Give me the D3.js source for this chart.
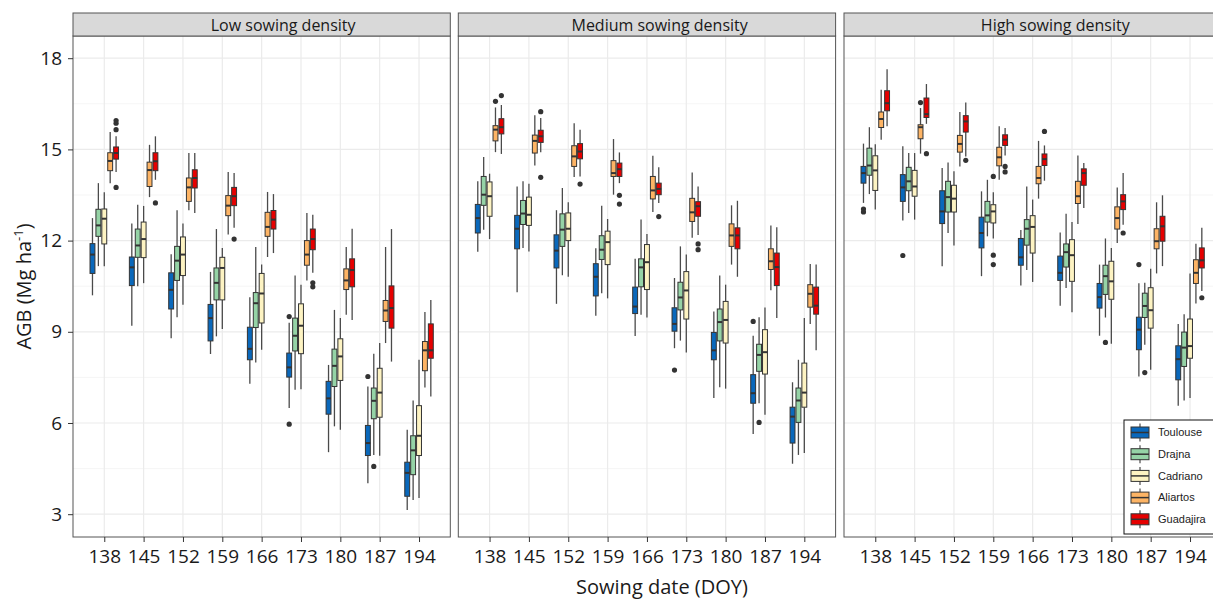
<!DOCTYPE html>
<html>
<head>
<meta charset="utf-8">
<script src="https://cdn.jsdelivr.net/npm/d3@7"></script>
<style>
  body { margin: 0; background: #fff; }
  svg { display: block; font-family: "Open Sans", sans-serif; }
</style>
</head>
<body>
<div id="chart"></div>
<script>
const densities = ["Low sowing density", "Medium sowing density", "High sowing density"];
const sowingDates = [138, 145, 152, 159, 166, 173, 180, 187, 194];
const sites = ["Toulouse", "Drajna", "Cadriano", "Aliartos", "Guadajira"];
const siteColors = ["#0a68bb", "#95d3a6", "#fdf3c2", "#fdb465", "#e60000"];
const yTicks = [3, 6, 9, 12, 15, 18];
const yMinor = [4.5, 7.5, 10.5, 13.5, 16.5];

// [whisker low, q1, median, q3, whisker high], one row per sowing date, one block per site
const lowBoxes = [
    [[10.2, 10.92, 11.54, 11.90, 12.74], [9.2, 10.52, 11.12, 11.46, 12.56], [8.79, 9.75, 10.38, 10.94, 11.55],
     [8.27, 8.70, 9.45, 9.90, 10.97], [7.29, 8.08, 8.44, 9.15, 10.14], [6.49, 7.51, 7.83, 8.30, 9.3],
     [5.04, 6.29, 6.81, 7.37, 7.91], [4.02, 4.93, 5.34, 5.92, 7.2], [3.14, 3.59, 4.36, 4.71, 5.78]],
    [[11.16, 12.14, 12.5, 13.03, 13.89], [10.5, 11.45, 11.84, 12.38, 13.18], [9.48, 10.69, 11.34, 11.81, 13.0],
     [8.85, 10.05, 10.61, 11.1, 12.38], [7.99, 9.14, 9.94, 10.29, 11.79], [7.09, 8.37, 8.87, 9.45, 10.85],
     [5.89, 7.20, 7.88, 8.43, 9.72], [4.95, 6.14, 6.73, 7.15, 8.28], [3.47, 4.30, 5.1, 5.58, 6.74]],
    [[11.16, 11.89, 12.72, 13.04, 13.59], [10.6, 11.44, 12.05, 12.61, 13.14], [9.89, 10.85, 11.54, 12.12, 12.56],
     [9.09, 10.05, 11.10, 11.45, 11.76], [8.41, 9.29, 10.26, 10.92, 11.21], [7.11, 8.28, 9.2, 9.92, 10.55],
     [5.78, 7.40, 8.19, 8.77, 9.45], [4.92, 6.19, 7.0, 7.80, 8.63], [3.53, 4.93, 5.58, 6.57, 8.08]],
    [[13.89, 14.30, 14.62, 14.89, 15.57], [13.43, 13.78, 14.32, 14.58, 15.15], [13.0, 13.29, 13.75, 14.06, 14.88],
     [12.2, 12.82, 13.15, 13.48, 14.26], [11.46, 12.14, 12.45, 12.93, 13.6], [10.69, 11.19, 11.54, 12.0, 12.91],
     [9.56, 10.39, 10.69, 11.07, 11.79], [8.63, 9.34, 9.70, 10.03, 11.79], [7.17, 7.72, 8.39, 8.68, 9.65]],
    [[14.26, 14.68, 14.88, 15.08, 15.43], [14.0, 14.30, 14.61, 14.89, 15.43], [12.91, 13.73, 14.06, 14.33, 14.88],
     [12.42, 13.15, 13.46, 13.75, 14.22], [11.59, 12.38, 12.69, 12.99, 13.53], [10.94, 11.70, 12.05, 12.38, 12.85],
     [9.39, 10.48, 11.03, 11.40, 12.39], [8.02, 9.12, 9.78, 10.51, 12.38], [6.87, 8.13, 8.39, 9.26, 10.05]]
];

const mediumBoxes = [
    [[11.63, 12.25, 12.74, 13.19, 13.95], [10.30, 11.73, 12.39, 12.83, 13.78], [9.92, 11.10, 11.67, 12.19, 13.0],
     [9.53, 10.18, 10.81, 11.24, 11.75], [8.86, 9.60, 9.83, 10.47, 11.4], [8.46, 9.02, 9.26, 9.79, 10.77],
     [6.82, 8.08, 8.39, 8.98, 9.67], [5.64, 6.65, 6.98, 7.59, 8.87], [4.66, 5.34, 6.21, 6.52, 7.34]],
    [[12.36, 13.16, 13.51, 14.11, 14.75], [11.76, 12.53, 12.89, 13.32, 13.95], [10.86, 11.81, 12.36, 12.88, 13.73],
     [10.27, 11.38, 11.70, 12.16, 13.15], [9.56, 10.48, 11.12, 11.40, 12.69], [8.71, 9.72, 10.13, 10.63, 11.81],
     [7.18, 8.70, 9.32, 9.75, 10.85], [6.65, 7.70, 8.24, 8.59, 9.48], [4.95, 6.02, 6.74, 7.15, 8.08]],
    [[12.05, 12.80, 13.46, 13.93, 14.20], [11.64, 12.50, 12.85, 13.43, 13.87], [10.81, 12.0, 12.39, 12.91, 13.26],
     [10.1, 11.21, 11.95, 12.31, 12.71], [9.47, 10.39, 11.29, 11.87, 12.22], [8.32, 9.42, 10.36, 10.98, 11.54],
     [7.13, 8.63, 9.39, 10.0, 10.55], [6.27, 7.61, 8.33, 9.07, 9.80], [5.01, 6.52, 7.0, 7.97, 9.45]],
    [[14.91, 15.28, 15.65, 15.78, 16.38], [14.47, 14.88, 15.28, 15.47, 16.12], [14.09, 14.44, 14.77, 15.12, 15.86],
     [13.51, 14.11, 14.22, 14.63, 15.34], [12.94, 13.37, 13.65, 14.11, 14.79], [12.09, 12.63, 12.93, 13.39, 14.24],
     [11.21, 11.81, 12.17, 12.55, 13.16], [10.37, 11.05, 11.32, 11.73, 12.50], [9.26, 9.81, 10.25, 10.55, 11.23]],
    [[14.85, 15.51, 15.73, 16.01, 16.46], [14.91, 15.23, 15.43, 15.63, 16.03], [14.11, 14.69, 14.93, 15.19, 15.65],
     [13.89, 14.11, 14.35, 14.55, 14.90], [13.24, 13.51, 13.70, 13.89, 14.41], [12.18, 12.80, 13.13, 13.28, 13.78],
     [10.81, 11.73, 12.17, 12.42, 13.31], [9.45, 10.52, 11.13, 11.59, 12.44], [8.39, 9.58, 9.86, 10.47, 11.21]]
];

const highBoxes = [
    [[13.24, 13.89, 14.22, 14.44, 15.19], [12.66, 13.29, 13.75, 14.17, 15.10], [11.16, 12.56, 12.96, 13.64, 14.39],
     [10.83, 11.76, 12.25, 12.77, 13.62], [10.52, 11.19, 11.45, 12.07, 12.35], [9.86, 10.69, 10.94, 11.49, 12.27],
     [8.87, 9.78, 10.14, 10.59, 11.21], [7.53, 8.41, 9.07, 9.48, 10.60], [6.57, 7.42, 8.10, 8.54, 9.26]],
    [[13.53, 14.15, 14.47, 15.04, 15.73], [12.91, 13.64, 13.95, 14.41, 14.88], [12.25, 12.94, 13.43, 13.95, 14.57],
     [12.14, 12.61, 12.83, 13.29, 14.0], [11.03, 11.85, 12.39, 12.69, 13.78], [10.44, 11.13, 11.62, 11.89, 12.88],
     [9.47, 10.23, 10.83, 11.19, 12.07], [8.57, 9.47, 9.85, 10.27, 10.61], [6.74, 7.86, 8.48, 8.99, 9.58]],
    [[13.02, 13.65, 14.31, 14.79, 15.17], [12.69, 13.46, 13.78, 14.31, 14.88], [11.84, 12.94, 13.38, 13.82, 14.28],
     [12.07, 12.58, 12.96, 13.18, 13.59], [10.64, 11.59, 12.45, 12.82, 13.35], [9.64, 10.66, 11.52, 12.03, 12.61],
     [8.61, 10.07, 10.66, 11.32, 11.76], [7.75, 9.12, 9.71, 10.45, 11.07], [6.82, 8.13, 8.53, 9.42, 10.92]],
    [[15.32, 15.72, 16.0, 16.23, 16.96], [14.86, 15.35, 15.73, 15.81, 16.36], [14.44, 14.91, 15.18, 15.46, 16.23],
     [14.0, 14.46, 14.74, 15.07, 15.76], [13.38, 13.87, 14.06, 14.44, 15.28], [12.55, 13.22, 13.46, 13.95, 14.80],
     [11.92, 12.38, 12.74, 13.11, 13.75], [10.92, 11.73, 11.98, 12.39, 13.26], [9.93, 10.59, 10.94, 11.37, 11.90]],
    [[15.76, 16.27, 16.52, 16.93, 17.64], [15.84, 16.05, 16.16, 16.69, 17.15], [14.77, 15.57, 15.92, 16.11, 16.54],
     [14.8, 15.13, 15.32, 15.48, 15.70], [13.97, 14.47, 14.68, 14.85, 15.13], [13.07, 13.82, 14.22, 14.36, 14.55],
     [12.52, 13.02, 13.29, 13.51, 14.22], [11.16, 11.98, 12.47, 12.80, 13.49], [10.34, 11.10, 11.35, 11.76, 12.42]]
];

// outliers: [sowing date, site index, value]
const lowOutliers = [
    [138, 4, 15.95], [138, 4, 15.86], [138, 4, 15.65], [138, 4, 13.75], [145, 4, 13.24], [159, 4, 12.05],
    [173, 0, 9.5], [173, 0, 5.96], [173, 4, 10.61], [173, 4, 10.48], [187, 0, 7.53], [187, 1, 4.57]
];
const mediumOutliers = [
    [138, 3, 16.58], [138, 4, 16.77], [145, 4, 16.24], [145, 4, 14.08], [152, 4, 13.86], [159, 4, 13.49],
    [159, 4, 13.20], [166, 4, 12.79], [173, 0, 7.74], [173, 4, 11.89], [173, 4, 11.70], [187, 0, 9.34], [187, 1, 6.02]
];
const highOutliers = [
    [138, 0, 13.04], [138, 0, 12.94], [145, 0, 11.51], [145, 3, 16.54], [145, 4, 14.86], [152, 4, 14.64],
    [159, 2, 14.11], [159, 2, 11.52], [159, 2, 11.21], [159, 4, 14.44], [159, 4, 14.26], [166, 4, 15.59],
    [180, 1, 8.65], [180, 4, 12.25], [187, 0, 11.21], [187, 1, 7.66], [194, 4, 10.12]
];

const panelBoxes = [lowBoxes, mediumBoxes, highBoxes];
const panelOutliers = [lowOutliers, mediumOutliers, highOutliers];

const width = 1213, height = 600;
const panelLeft = [73, 458.3, 844];
const panelW = 377.3;
const stripShift = [21.5, 12.7, 22.6]; // strip titles sit a little right of centre in the original
const plotTop = 36, plotBottom = 537, stripTop = 13;
const ink = "#333333";

const svg = d3.select("#chart")
    .append("svg")
    .attr("width", width)
    .attr("height", height);

const y = d3.scaleLinear().domain([2.25, 18.73]).range([plotBottom, plotTop]);
const x = d3.scalePoint().domain(sowingDates).range([0, panelW]).padding(0.795);
const dodge = d3.scaleBand()
    .domain(sites)
    .range([-x.step() * 0.375, x.step() * 0.375]);
const color = d3.scaleOrdinal().domain(sites).range(siteColors);

densities.forEach((name, p) => {
    const g = svg.append("g").attr("transform", `translate(${panelLeft[p]},0)`);

    g.append("rect")
        .attr("x", 0).attr("y", plotTop)
        .attr("width", panelW).attr("height", plotBottom - plotTop)
        .attr("fill", "#fff");

    // grid
    g.selectAll(".minor").data(yMinor).join("line")
        .attr("x1", 0).attr("x2", panelW)
        .attr("y1", d => y(d)).attr("y2", d => y(d))
        .attr("stroke", "#f3f3f3").attr("stroke-width", 0.8);
    g.selectAll(".hgrid").data(yTicks).join("line")
        .attr("x1", 0).attr("x2", panelW)
        .attr("y1", d => y(d)).attr("y2", d => y(d))
        .attr("stroke", "#ebebeb").attr("stroke-width", 1.2);
    g.selectAll(".vgrid").data(sowingDates).join("line")
        .attr("x1", d => x(d)).attr("x2", d => x(d))
        .attr("y1", plotTop).attr("y2", plotBottom)
        .attr("stroke", "#ebebeb").attr("stroke-width", 1.2);

    // boxes
    const rows = [];
    panelBoxes[p].forEach((siteRows, s) => {
        siteRows.forEach((st, j) => {
            rows.push({ site: sites[s], date: sowingDates[j], lo: st[0], q1: st[1], med: st[2], q3: st[3], hi: st[4] });
        });
    });

    const bw = dodge.bandwidth();
    const box = g.selectAll(".box").data(rows).join("g")
        .attr("class", "box")
        .attr("transform", d => `translate(${x(d.date) + dodge(d.site)},0)`);

    box.append("line")
        .attr("x1", bw / 2).attr("x2", bw / 2)
        .attr("y1", d => y(d.hi)).attr("y2", d => y(d.q3))
        .attr("stroke", "#4a4a4a").attr("stroke-width", 1.3);
    box.append("line")
        .attr("x1", bw / 2).attr("x2", bw / 2)
        .attr("y1", d => y(d.q1)).attr("y2", d => y(d.lo))
        .attr("stroke", "#4a4a4a").attr("stroke-width", 1.3);
    box.append("rect")
        .attr("x", 0.5).attr("width", bw - 1)
        .attr("y", d => y(d.q3))
        .attr("height", d => y(d.q1) - y(d.q3))
        .attr("fill", d => color(d.site))
        .attr("stroke", ink).attr("stroke-width", 1);
    box.append("line")
        .attr("x1", 0.5).attr("x2", bw - 0.5)
        .attr("y1", d => y(d.med)).attr("y2", d => y(d.med))
        .attr("stroke", ink).attr("stroke-width", 2);

    g.selectAll(".outlier").data(panelOutliers[p]).join("circle")
        .attr("cx", d => x(d[0]) + dodge(sites[d[1]]) + bw / 2)
        .attr("cy", d => y(d[2]))
        .attr("r", 2.6)
        .attr("fill", ink);

    // border
    g.append("rect")
        .attr("x", 0).attr("y", plotTop)
        .attr("width", panelW).attr("height", plotBottom - plotTop)
        .attr("fill", "none").attr("stroke", "#555").attr("stroke-width", 1);

    // strip
    g.append("rect")
        .attr("x", 0).attr("y", stripTop)
        .attr("width", panelW).attr("height", plotTop - stripTop)
        .attr("fill", "#d9d9d9").attr("stroke", "#555").attr("stroke-width", 1);
    g.append("text")
        .attr("x", panelW / 2 + stripShift[p]).attr("y", 30.5)
        .attr("text-anchor", "middle")
        .attr("font-size", 16)
        .attr("fill", "#1a1a1a")
        .text(name);

    // x axis
    const xAxis = g.append("g")
        .attr("transform", `translate(0,${plotBottom})`)
        .call(d3.axisBottom(x).tickSize(5).tickPadding(7.5));
    xAxis.select(".domain").remove();
    xAxis.selectAll("line").attr("stroke", ink);
    xAxis.selectAll("text")
        .attr("font-family", "Open Sans")
        .attr("font-size", 19)
        .attr("fill", "#1a1a1a");

    if (p === 0) {
        const yAxis = g.append("g")
            .call(d3.axisLeft(y).tickValues(yTicks).tickSize(5).tickPadding(6));
        yAxis.select(".domain").remove();
        yAxis.selectAll("line").attr("stroke", ink);
        yAxis.selectAll("text")
            .attr("font-family", "Open Sans")
            .attr("font-size", 19)
            .attr("fill", "#1a1a1a");
    }
});

// axis titles
svg.append("text")
    .attr("x", 662).attr("y", 594)
    .attr("text-anchor", "middle")
    .attr("font-size", 20)
    .attr("fill", "#1a1a1a")
    .text("Sowing date (DOY)");

const yTitle = svg.append("text")
    .attr("transform", `translate(31,${(plotTop + plotBottom) / 2}) rotate(-90)`)
    .attr("text-anchor", "middle")
    .attr("font-size", 20)
    .attr("fill", "#1a1a1a");
yTitle.append("tspan").text("AGB (Mg ha");
yTitle.append("tspan").attr("dy", -8).attr("font-size", 13).text("-1");
yTitle.append("tspan").attr("dy", 8).text(")");

// legend
const legend = svg.append("g").attr("transform", "translate(1124,420)");
legend.append("rect")
    .attr("x", 0).attr("y", 0).attr("width", 94).attr("height", 114)
    .attr("fill", "#fff").attr("stroke", "#111").attr("stroke-width", 1);

const item = legend.selectAll(".key").data(sites).join("g")
    .attr("transform", (d, i) => `translate(7,${12.5 + i * 21.7})`);
item.append("line")
    .attr("x1", 9).attr("x2", 9).attr("y1", -9).attr("y2", 9)
    .attr("stroke", "#4a4a4a").attr("stroke-width", 1.2);
item.append("rect")
    .attr("x", 0).attr("y", -5.5).attr("width", 18).attr("height", 11)
    .attr("fill", d => color(d)).attr("stroke", ink).attr("stroke-width", 1);
item.append("line")
    .attr("x1", 0).attr("x2", 18).attr("y1", 0).attr("y2", 0)
    .attr("stroke", ink).attr("stroke-width", 1.5);
item.append("text")
    .attr("x", 27).attr("y", 0)
    .attr("dy", "0.35em")
    .attr("font-family", "Liberation Sans, Arial, sans-serif")
    .attr("font-size", 11)
    .attr("fill", "#222")
    .text(d => d);
</script>
</body>
</html>
